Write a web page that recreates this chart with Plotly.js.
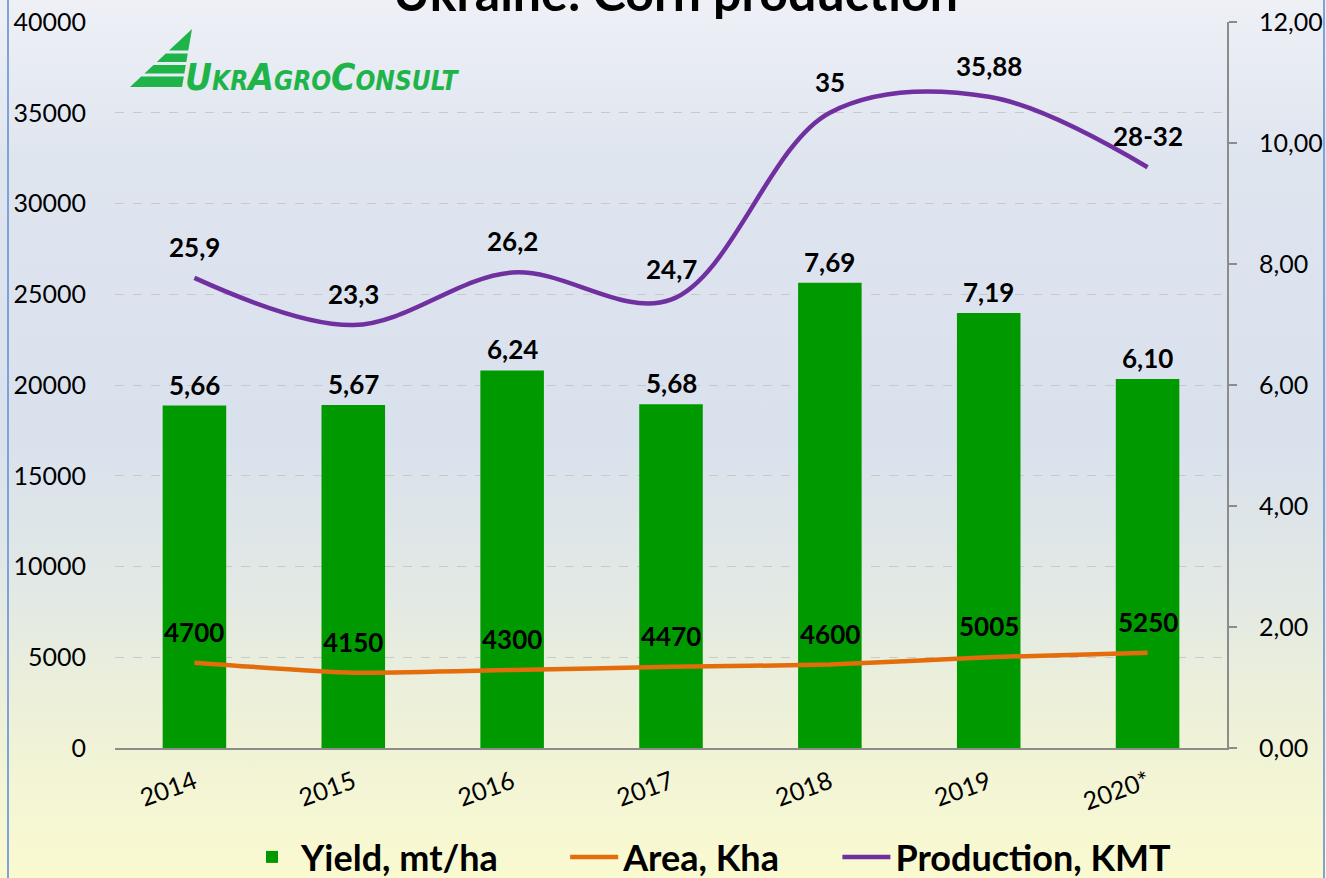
<!DOCTYPE html>
<html>
<head>
<meta charset="utf-8">
<script src="https://cdn.plot.ly/plotly-3.0.1.min.js"></script>
<style>
  html, body { margin: 0; padding: 0; background: #ffffff; }
  #wrap { position: relative; width: 1326px; height: 878px; overflow: hidden;
    background: linear-gradient(to bottom, #eef0f6 0%, #dfe5ef 18%, #d9e1ed 50%, #e3e9e4 68%, #eef1d8 82%, #fafad0 100%); }
  #chart { position: absolute; left: 0; top: 0; width: 1326px; height: 878px; }
  .bl { position: absolute; top: 0; width: 2px; height: 878px; background: #7fa3d8; }
</style>
</head>
<body>
<div id="wrap">
  <div class="bl" style="left:7px"></div>
  <div class="bl" style="left:1323px"></div>
  <div id="chart"></div>
</div>
<script>
// ---- data ----
const years = ['2014', '2015', '2016', '2017', '2018', '2019', '2020*'];
const yieldValues = [5.66, 5.67, 6.24, 5.68, 7.69, 7.19, 6.10];
const yieldLabels = ['5,66', '5,67', '6,24', '5,68', '7,69', '7,19', '6,10'];
const areaValues = [4700, 4150, 4300, 4470, 4600, 5005, 5250];
const areaLabels = ['4700', '4150', '4300', '4470', '4600', '5005', '5250'];
const productionValues = [25900, 23300, 26200, 24700, 35000, 35880, 32000];
const productionLabels = ['25,9', '23,3', '26,2', '24,7', '35', '35,88', '28-32'];
const seriesNames = ['Yield, mt/ha', 'Area, Kha', 'Production, KMT'];

const FONT = 'Lato, "Open Sans", "DejaVu Sans", sans-serif';
const NB = n => '\u00a0'.repeat(n);   // spacing between legend entries

// plot area in pixels (for decoration placement)
const L = 115, R = 1227, T = 22, B = 748;
const px = x => (x - L) / (R - L);
const py = y => (B - y) / (B - T);

const traces = [
  {
    type: 'bar', name: seriesNames[0] + NB(7), x: years, y: yieldValues,
    yaxis: 'y', marker: { color: '#009900' }
  },
  {
    type: 'scatter', mode: 'lines', name: seriesNames[1] + NB(6), x: years, y: areaValues,
    yaxis: 'y2', line: { color: '#e46c0a', width: 4.5, shape: 'spline', smoothing: 0.6 }
  },
  {
    type: 'scatter', mode: 'lines', name: seriesNames[2], x: years, y: productionValues,
    yaxis: 'y2', line: { color: '#7030a0', width: 4.5, shape: 'spline', smoothing: 1 }
  }
];

const annotations = [];
const lblFont = { family: FONT, size: 26, color: '#000000', weight: 'bold' };
years.forEach((yr, i) => {
  annotations.push({ x: i, y: yieldValues[i], xref: 'x', yref: 'y', text: yieldLabels[i],
    showarrow: false, yshift: 21, font: lblFont });
  annotations.push({ x: i, y: areaValues[i], xref: 'x', yref: 'y2', text: areaLabels[i],
    showarrow: false, yshift: 31, font: lblFont });
  annotations.push({ x: i, y: productionValues[i], xref: 'x', yref: 'y2', text: productionLabels[i],
    showarrow: false, yshift: 31, font: lblFont });
});

// chart title (partly cut off at the top, as in the reference)
annotations.push({
  xref: 'paper', yref: 'paper', x: px(675), y: py(24), xanchor: 'center', yanchor: 'bottom',
  showarrow: false, text: '<b>Ukraine: Corn production</b>',
  font: { family: FONT, size: 50, color: '#000000' }
});

// logo text
annotations.push({
  xref: 'paper', yref: 'paper', x: px(183), y: py(101), xanchor: 'left', yanchor: 'bottom',
  showarrow: false,
  text: '<i><b><span style="font-size:37px">U</span>KR<span style="font-size:37px">A</span>GRO<span style="font-size:37px">C</span>ONSULT</b></i>',
  font: { family: '"Liberation Sans Narrow", "DejaVu Sans Condensed", "Liberation Sans", sans-serif', size: 26, color: '#1fb44a' }
});

// logo triangle stripes
const apexX = 192, apexY = 29, leftBX = 130, rightBX = 182, baseY = 87;
const xl = y => apexX - (y - apexY) * (apexX - leftBX) / (baseY - apexY);
const xr = y => apexX - (y - apexY) * (apexX - rightBX) / (baseY - apexY);
const bands = [[29, 50.5], [53.5, 62], [65, 73.5], [76.5, 87]];
const shapes = bands.map(([y1, y2]) => ({
  type: 'path', xref: 'paper', yref: 'paper', line: { width: 0 }, fillcolor: '#1fb44a',
  path: `M ${px(xl(y1))} ${py(y1)} L ${px(xr(y1))} ${py(y1)} L ${px(xr(y2))} ${py(y2)} L ${px(xl(y2))} ${py(y2)} Z`
}));

const layout = {
  width: 1326, height: 878,
  margin: { l: L, r: 1326 - R, t: T, b: 878 - B },
  paper_bgcolor: 'rgba(0,0,0,0)', plot_bgcolor: 'rgba(0,0,0,0)',
  separators: ',.',
  font: { family: FONT, color: '#000000' },
  bargap: 0.6,
  showlegend: true,
  legend: {
    orientation: 'h', xref: 'container', yref: 'container',
    x: 710 / 1326, xanchor: 'center', y: (878 - 857) / 878, yanchor: 'middle',
    font: { family: FONT, size: 36, color: '#000000', weight: 'bold' },
    bgcolor: 'rgba(0,0,0,0)', itemwidth: 48, traceorder: 'normal', borderwidth: 0
  },
  xaxis: {
    type: 'category', range: [-0.5, 6.5], autorange: false,
    showline: true, linecolor: '#8c8c8c', linewidth: 2,
    ticks: '', tickangle: -20, ticklabelstandoff: 8,
    tickfont: { family: FONT, size: 25, color: '#000000' },
    showgrid: false, zeroline: false
  },
  yaxis: {
    side: 'right', range: [0, 12], dtick: 2, tickformat: '.2f',
    showline: true, linecolor: '#8c8c8c', linewidth: 2,
    ticks: 'outside', ticklen: 8, tickcolor: '#8c8c8c', tickwidth: 2, ticklabelstandoff: 17,
    tickfont: { family: FONT, size: 25, color: '#000000' },
    showgrid: false, zeroline: false
  },
  yaxis2: {
    overlaying: 'y', side: 'left', range: [0, 40000], dtick: 5000, tickformat: 'd',
    showline: false, ticks: '', ticklabelstandoff: 28,
    tickfont: { family: FONT, size: 25, color: '#000000' },
    showgrid: true, gridcolor: '#c9c9c9', griddash: 'dash', gridwidth: 1, zeroline: false
  },
  annotations: annotations,
  shapes: shapes
};

Plotly.newPlot('chart', traces, layout, { displayModeBar: false, staticPlot: true });
</script>
</body>
</html>
